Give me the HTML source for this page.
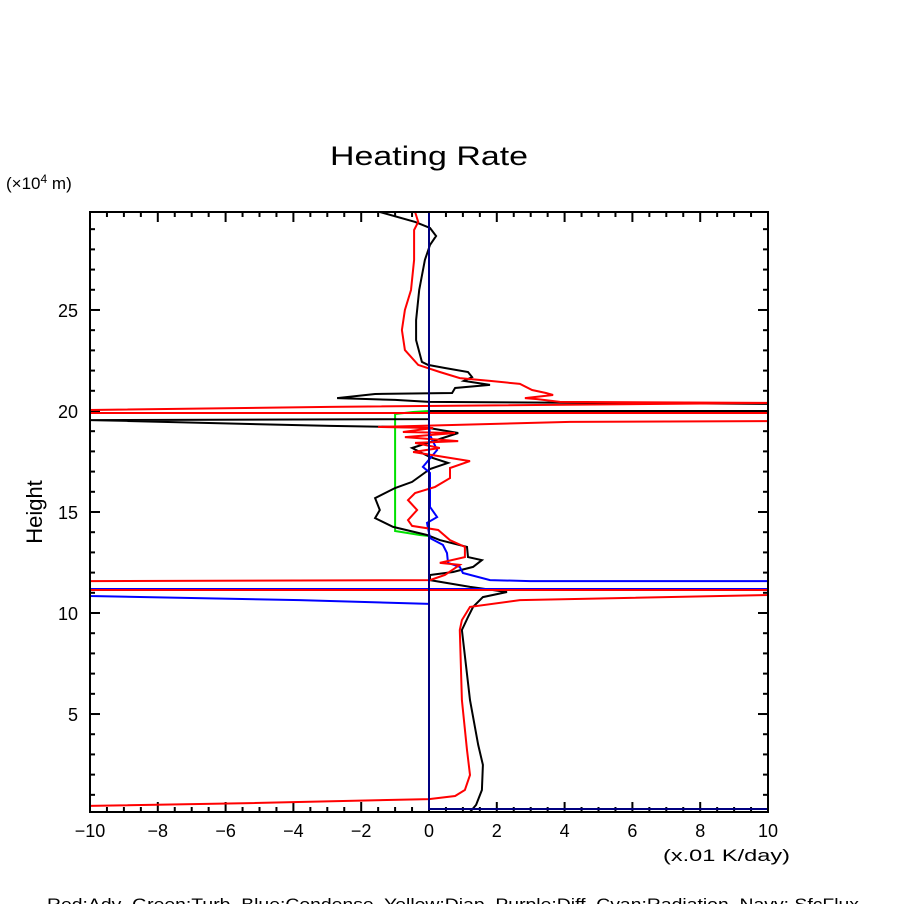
<!DOCTYPE html>
<html><head><meta charset="utf-8"><style>
body{margin:0;background:#fff;width:904px;height:904px;overflow:hidden}
svg{display:block}
text{font-family:"Liberation Sans","DejaVu Sans",sans-serif;fill:#000;white-space:pre}
</style></head><body>
<svg id="chart" width="904" height="904" viewBox="0 0 904 904" xmlns="http://www.w3.org/2000/svg" xml:space="preserve">
<text x="330" y="165" font-size="27" textLength="198" lengthAdjust="spacingAndGlyphs">Heating Rate</text>
<text x="6" y="189" font-size="17">(×10<tspan font-size="12" dy="-6">4</tspan><tspan dy="6"> m)</tspan></text>
<text x="42" y="512" font-size="22" text-anchor="middle" transform="rotate(-90 42 512)">Height</text>
<text x="663" y="861" font-size="17" textLength="127" lengthAdjust="spacingAndGlyphs">(x.01 K/day)</text>
<text x="47" y="910" font-size="17" textLength="812" lengthAdjust="spacingAndGlyphs">Red:Adv  Green:Turb  Blue:Condense  Yellow:Diap  Purple:Diff  Cyan:Radiation  Navy: SfcFlux</text>
<g id="ticks"></g>
<g id="series"></g>
<rect x="90" y="212" width="678" height="600" fill="none" stroke="#000" stroke-width="2"/>
</svg>
<script>
const xTickLabels=[-10,-8,-6,-4,-2,0,2,4,6,8,10];
const yTickLabels=[5,10,15,20,25];
const blackX=[-1.45,-0.41,0.03,0.21,0.03,-0.12,-0.29,-0.38,-0.38,-0.21,-0.03,0.47,1.15,1.27,1.03,1.80,0.77,0.68,-1.59,-2.71,-1.0,0,10,10,0,0,-10,-2.92,-1.0,0,0.86,-0.50,0.03,0.56,0.03,-0.50,-1.0,-1.59,-1.45,-1.59,-1.06,-0.06,0.32,1.12,1.15,1.56,1.30,0.71,0.03,0.03,1.21,2.30,1.59,1.30,1.15,0.97,1.21,1.45,1.59,1.56,1.39,1.21];
const blackH=[29.85,29.36,29.06,28.66,28.22,27.48,25.99,24.5,23.51,22.43,22.28,22.13,21.93,21.68,21.49,21.29,21.14,20.89,20.84,20.64,20.55,20.45,20.35,20.0,20.0,19.6,19.55,19.26,19.21,19.16,18.91,18.17,17.72,17.43,17.13,16.49,16.19,15.69,15.10,14.70,14.26,13.86,13.61,13.27,12.77,12.62,12.28,12.03,11.88,11.63,11.29,11.04,10.79,10.30,9.80,9.16,5.69,3.47,2.48,1.24,0.50,0.15];
const redX=[-0.41,-0.32,-0.44,-0.44,-0.53,-0.71,-0.80,-0.71,-0.32,0.32,0.91,1.80,2.68,3.04,3.45,3.66,2.83,3.19,3.86,10,-2.92,-10,-10,10,10,4.16,-1.50,0.12,-0.77,0.77,-0.71,0.86,-0.41,0.32,-0.47,1.21,0.62,0.62,0.18,-0.41,-0.62,-0.35,-0.62,-0.50,0.27,0.62,1.06,1.06,0.32,0.91,0.47,0.03,-10,-10,10,10,2.68,1.21,0.97,0.91,0.97,1.12,1.21,1.06,0.77,0,-5.28,-10];
const redH=[29.85,29.36,28.96,27.48,25.99,25.0,24.01,23.02,22.28,21.93,21.63,21.49,21.34,21.04,20.89,20.79,20.64,20.59,20.45,20.40,20.20,20.05,19.90,19.90,19.50,19.46,19.21,19.16,18.96,18.91,18.71,18.51,18.42,18.17,17.97,17.52,17.18,16.68,16.24,15.94,15.59,15.10,14.60,14.31,14.11,13.61,13.27,12.77,12.48,12.38,11.88,11.63,11.58,11.14,11.14,10.89,10.64,10.30,9.65,9.16,5.69,3.22,1.98,1.24,0.94,0.79,0.59,0.45];
const blueX=[0,0.03,0.24,-0.18,0.03,0.03,0.24,-0.06,0.03,0.41,0.53,0.56,0.91,1.0,1.80,2.98,10,10,-10,-10,-3.81,0];
const blueH=[19.3,18.81,18.07,17.23,16.93,15.25,14.75,14.46,13.71,13.37,12.97,12.48,12.28,11.98,11.63,11.58,11.58,11.19,11.19,10.84,10.64,10.45];
const greenX=[0,-0.47,-1.0,-1.0,-0.27,0];
const greenH=[20.0,19.95,19.85,14.06,13.86,13.81];
const navyX=[0,0,10];
const navyH=[29.85,0.3,0.3];

const X0=90,X1=768,Y0=812,Y1=212,XMIN=-10,XMAX=10,HMIN=0.15,HMAX=29.85;
const sx=v=>X0+(v-XMIN)/(XMAX-XMIN)*(X1-X0);
const sy=v=>Y0-(v-HMIN)/(HMAX-HMIN)*(Y0-Y1);
const NS='http://www.w3.org/2000/svg';
const tg=document.getElementById('ticks'), sg=document.getElementById('series');
function line(x1,y1,x2,y2,name){
  const l=document.createElementNS(NS,'line');
  l.setAttribute('x1',x1);l.setAttribute('y1',y1);l.setAttribute('x2',x2);l.setAttribute('y2',y2);
  l.setAttribute('stroke','#000');l.setAttribute('stroke-width','2');
  
  
  tg.appendChild(l);
}
for(let v=-10;v<=10.001;v+=0.5){
  const major=Math.abs(v/2-Math.round(v/2))<1e-6, len=major?10:5, x=sx(v);
  line(x,Y0,x,Y0-len,'x-tick');line(x,Y1,x,Y1+len,'x-tick');
}
for(let v=1;v<=29;v++){
  const major=v%5===0, len=major?10:5, y=sy(v);
  line(X0,y,X0+len,y,'y-tick');line(X1,y,X1-len,y,'y-tick');
}
xTickLabels.forEach(v=>{
  const t=document.createElementNS(NS,'text');
  t.setAttribute('x',sx(v));t.setAttribute('y',837);t.setAttribute('font-size','18');t.setAttribute('text-anchor','middle');
  t.textContent=v<0?'\u2212'+Math.abs(v):String(v);
  
  
  tg.appendChild(t);
});
yTickLabels.forEach(v=>{
  const t=document.createElementNS(NS,'text');
  t.setAttribute('x',78);t.setAttribute('y',sy(v)+7);t.setAttribute('font-size','18');t.setAttribute('text-anchor','end');
  t.textContent=String(v);
  
  
  tg.appendChild(t);
});
function series(xs,hs,color,name){
  const p=document.createElementNS(NS,'polyline');
  p.setAttribute('points',xs.map((v,i)=>sx(v).toFixed(1)+','+sy(hs[i]).toFixed(1)).join(' '));
  p.setAttribute('fill','none');p.setAttribute('stroke',color);p.setAttribute('stroke-width','2');
  
  
  sg.appendChild(p);
}
series(greenX,greenH,'#00e000','turb-line');
series(blackX,blackH,'#000000','total-line');
series(blueX,blueH,'#0000ff','condense-line');
series(redX,redH,'#ff0000','adv-line');
series(navyX,navyH,'#000080','sfcflux-line');
</script>
</body></html>
